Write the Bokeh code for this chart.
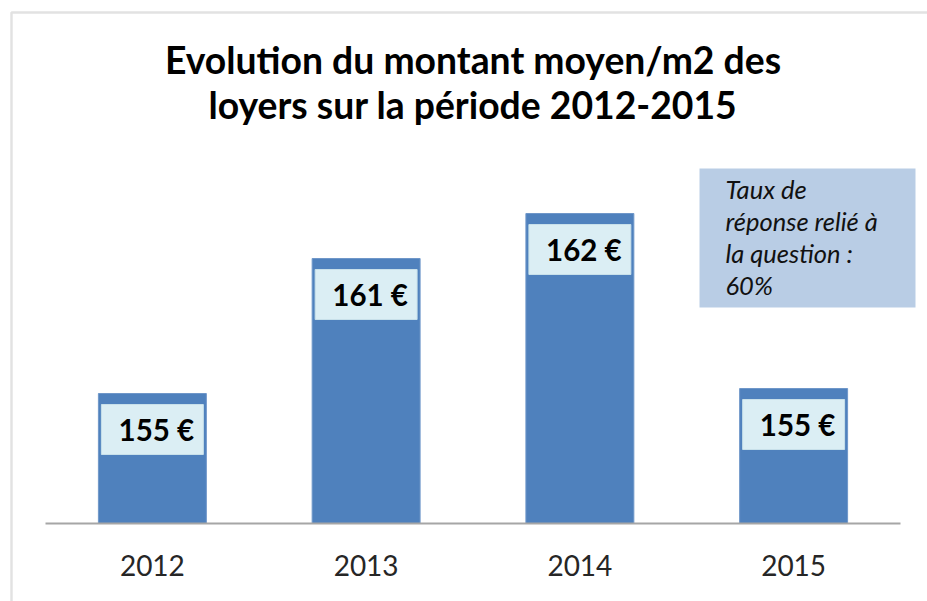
from bokeh.plotting import figure
from bokeh.models import Range1d, Label, BoxAnnotation, FixedTicker
from bokeh.embed import file_html
from bokeh.resources import INLINE
from bokeh.core.properties import value

# ---- data ----
years = ["2012", "2013", "2014", "2015"]
rents = [155.2, 160.6, 162.4, 155.4]
value_labels = [f"{round(v)} €" for v in rents]
title_lines = ["Evolution du montant moyen/m2 des", "loyers sur la période 2012-2015"]
note_lines = ["Taux de", "réponse relié à", "la question :", "60%"]

# ---- layout constants (pixels) ----
W, H = 927, 601
BASE_PX = 523          # page y of the value axis baseline
LEFT_PX = 45           # page x where the category band starts
CAT_PX = 213.75        # width of one category band
Y0 = 150.0             # value at the baseline
PX_PER_UNIT = 25.0

idx = list(range(len(years)))
x_start = -0.5 - LEFT_PX / CAT_PX
x_end = x_start + W / CAT_PX
y_end = Y0 + BASE_PX / PX_PER_UNIT
y_start = y_end - H / PX_PER_UNIT

def ydata(py):
    return y_end - py / PX_PER_UNIT

def xdata(px):
    return x_start + px / CAT_PX

p = figure(width=W, height=H, x_range=Range1d(x_start, x_end), y_range=Range1d(y_start, y_end),
           output_backend="svg", toolbar_location=None, title=None,
           min_border_left=0, min_border_right=0, min_border_bottom=0, min_border_top=0)
p.outline_line_color = None
p.grid.visible = False
p.yaxis.visible = False
p.background_fill_color = "white"
p.border_fill_color = "white"

xa = p.xaxis[0]
xa.fixed_location = Y0
xa.bounds = (-0.5, len(years) - 0.5)
xa.ticker = FixedTicker(ticks=idx)
xa.major_label_overrides = {i: y for i, y in zip(idx, years)}
xa.axis_line_color = "#a6a6a6"
xa.axis_line_width = 2
xa.major_tick_line_color = None
xa.minor_tick_line_color = None
xa.major_tick_out = 0
xa.major_tick_in = 0
xa.major_label_text_font = "Lato"
xa.major_label_text_font_size = "28px"
xa.major_label_text_color = "#262626"
xa.major_label_standoff = 31

# outer chart frame
p.add_layout(BoxAnnotation(left=11, top=12, right=3000, bottom=3000,
                           left_units="canvas", right_units="canvas", top_units="canvas", bottom_units="canvas",
                           fill_color=None, fill_alpha=0, line_color="#9e9e9e", line_width=2.5))

# bars
p.vbar(x=idx, top=rents, bottom=Y0, width=0.505, fill_color="#4f81bd", line_color="#6f97c9", line_width=1)

# value label boxes inside bar tops
box_top = [v - 11 / PX_PER_UNIT for v in rents]
box_bot = [v - 61 / PX_PER_UNIT for v in rents]
p.vbar(x=idx, top=box_top, bottom=box_bot, width=0.477, fill_color="#dbeef4", line_color="#c8e0ea", line_width=1)
p.text(x=idx, y=[v - 36 / PX_PER_UNIT for v in rents], text=value_labels,
       x_offset=4, text_align="center", text_baseline="middle",
       text_font=value("Lato"), text_font_style="bold", text_font_size="29.5px", text_color="#000000")

# title
for line, py in zip(title_lines, [59, 104]):
    p.add_layout(Label(x=(len(years) - 1) / 2, y=ydata(py), text=line, text_align="center",
                       text_baseline="alphabetic", text_font="Lato", text_font_style="bold",
                       text_font_size="37.3px", text_color="#000000"))

# note box
p.add_layout(BoxAnnotation(left=699, right=915, top=168, bottom=307,
                           left_units="canvas", right_units="canvas", top_units="canvas", bottom_units="canvas",
                           fill_color="#b9cde5", fill_alpha=1, line_color=None))
for line, py in zip(note_lines, [188, 220, 252, 284]):
    p.add_layout(Label(x=xdata(725), y=ydata(py), text=line, text_align="left",
                       text_baseline="alphabetic", text_font="Lato", text_font_style="italic",
                       text_font_size="25.5px", text_color="#111111"))

open("out.html", "w").write(file_html(p, INLINE))
